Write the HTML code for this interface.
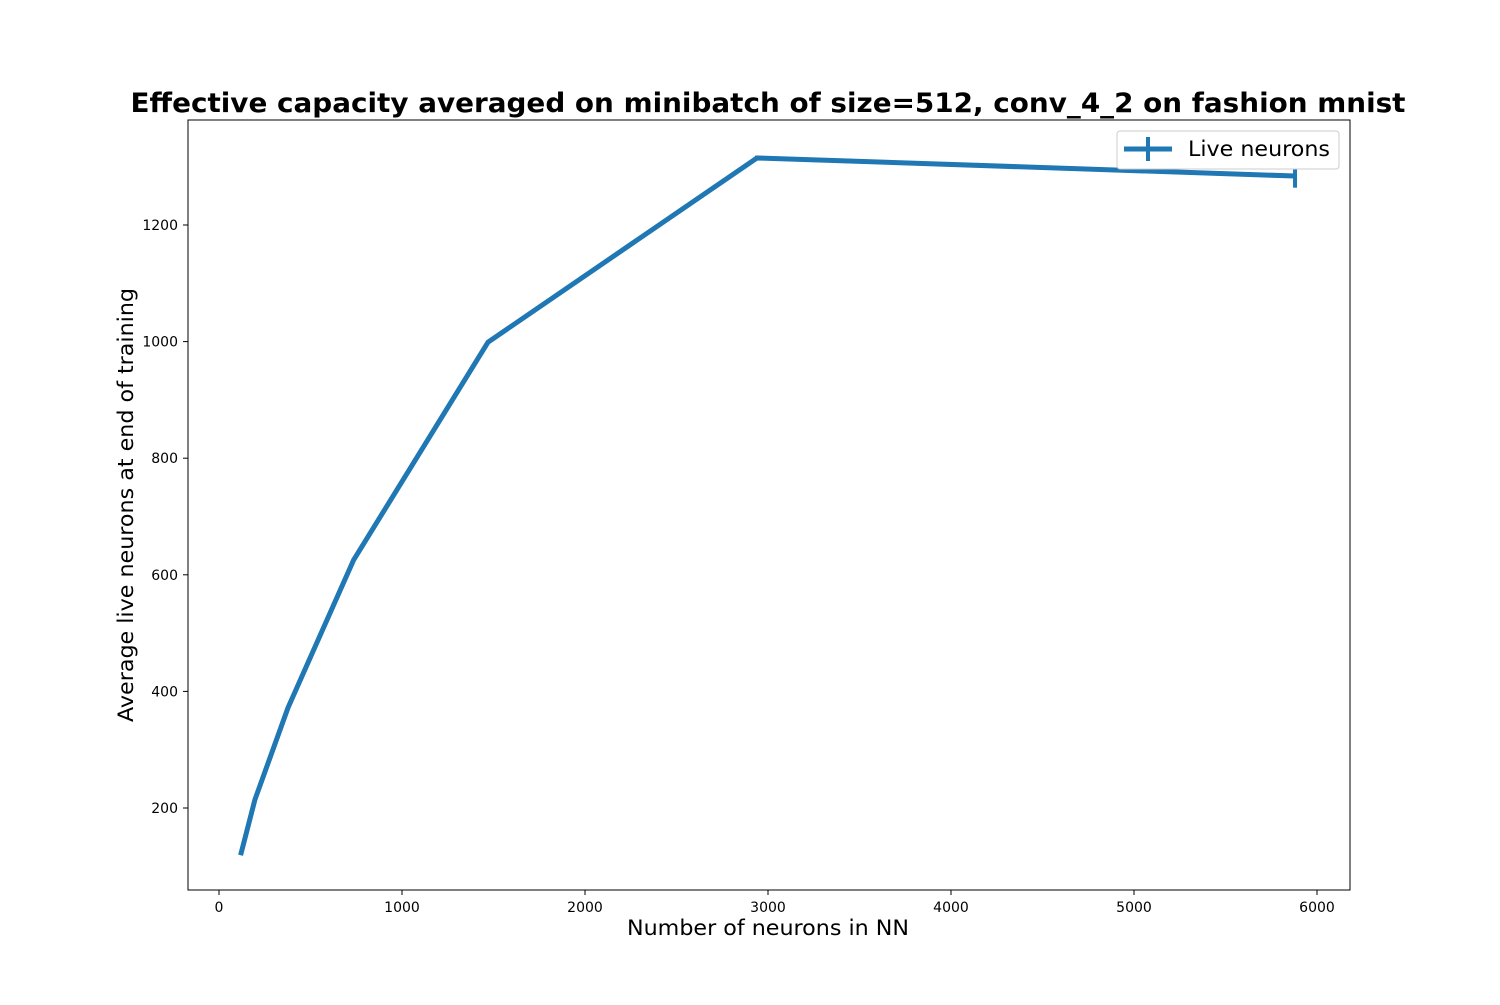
<!DOCTYPE html>
<html><head><meta charset="utf-8"><style>
body{margin:0;background:#fff;}
svg{font-family:"DejaVu Sans","Liberation Sans",sans-serif;}
</style></head><body>
<svg id="chart" width="1500" height="1000" xmlns="http://www.w3.org/2000/svg">
<rect width="1500" height="1000" fill="#fff"/>
<text x="768" y="112" text-anchor="middle" font-size="27" font-weight="bold" textLength="1275" lengthAdjust="spacingAndGlyphs">Effective capacity averaged on minibatch of size=512, conv_4_2 on fashion mnist</text>
<g id="axes"></g>
<g id="series"></g>
<rect x="188" y="120" width="1162" height="770" fill="none" stroke="#000" stroke-width="1"/>
<text x="768" y="935" text-anchor="middle" font-size="21" textLength="282" lengthAdjust="spacingAndGlyphs">Number of neurons in NN</text>
<text transform="translate(133,505) rotate(-90)" text-anchor="middle" font-size="21" textLength="434" lengthAdjust="spacingAndGlyphs">Average live neurons at end of training</text>
<g>
<rect x="1117" y="131" width="222" height="38" rx="3" fill="#fff" stroke="#ccc"/>
<line x1="1124" y1="149" x2="1172" y2="149" stroke="#1f77b4" stroke-width="5"/>
<line x1="1148" y1="137" x2="1148" y2="161" stroke="#1f77b4" stroke-width="4"/>
<text x="1188" y="156" font-size="21" textLength="142" lengthAdjust="spacingAndGlyphs">Live neurons</text>
</g>
</svg>
<script>
const xValues=[118,196,377,735,1470,2940,5880];
const yValues=[119,214,372,625,999,1315,1284];
const yErrors=[0,0,0,0,3,4,20];
const xTicks=[0,1000,2000,3000,4000,5000,6000];
const yTicks=[200,400,600,800,1000,1200];
const NS="http://www.w3.org/2000/svg";
function xs(v){return 219+v*0.183;}
function ys(v){return 808-(v-200)*0.583;}
const axes=document.getElementById('axes');
const ser=document.getElementById('series');
function mk(t,a,p){const e=document.createElementNS(NS,t);for(const k in a)e.setAttribute(k,a[k]);p.appendChild(e);return e;}
xTicks.forEach(t=>{
 const l=mk('line',{x1:xs(t),x2:xs(t),y1:890,y2:895,stroke:'#000'},axes);
 
 
 const tx=mk('text',{x:xs(t),y:912,'text-anchor':'middle','font-size':14},axes);tx.textContent=t;
 
 
});
yTicks.forEach(t=>{
 const l=mk('line',{x1:183,x2:188,y1:ys(t),y2:ys(t),stroke:'#000'},axes);
 
 
 const tx=mk('text',{x:178,y:ys(t)+5,'text-anchor':'end','font-size':14},axes);tx.textContent=t;
 
 
});
const pts=xValues.map((x,i)=>xs(x)+','+ys(yValues[i])).join(' ');
const pl=mk('polyline',{points:pts,fill:'none',stroke:'#1f77b4','stroke-width':5,'stroke-linejoin':'round'},ser);


xValues.forEach((x,i)=>{
 if(yErrors[i]<=0)return;
 const e=mk('line',{x1:xs(x),x2:xs(x),y1:ys(yValues[i]-yErrors[i]),y2:ys(yValues[i]+yErrors[i]),stroke:'#1f77b4','stroke-width':4},ser);
 
 
});
</script>
</body></html>
